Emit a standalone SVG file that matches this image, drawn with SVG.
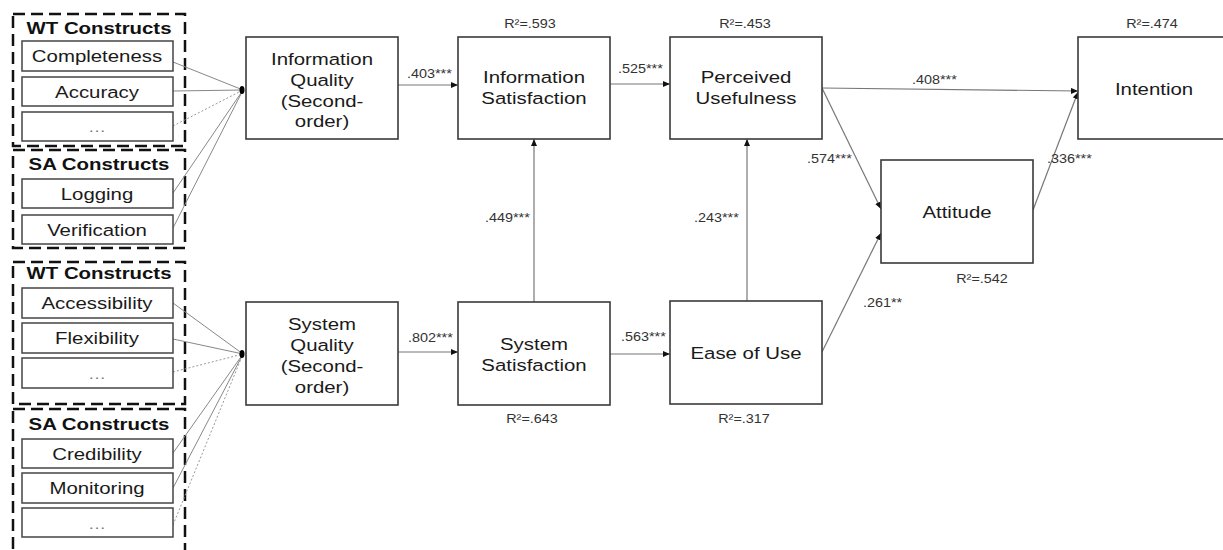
<svg xmlns="http://www.w3.org/2000/svg" width="1223" height="550" viewBox="0 0 1223 550">
<style>
text{font-family:"Liberation Sans",Arial,sans-serif;}
.grp{fill:none;stroke:#111;stroke-width:2.5;stroke-dasharray:12 6;}
.hdr{font-size:17px;font-weight:bold;fill:#111;text-anchor:middle;}
.ib{fill:#fff;stroke:#444;stroke-width:1.5;}
.it{font-size:17px;fill:#1a1a1a;text-anchor:middle;}
.dots{font-size:15px;fill:#777;text-anchor:middle;}
.mb{fill:#fff;stroke:#3a3a3a;stroke-width:1.6;}
.mt{font-size:17px;fill:#1a1a1a;text-anchor:middle;}
.lbl{font-size:12px;fill:#333;}
.r2{font-size:12px;fill:#333;text-anchor:middle;}
.ln{fill:none;stroke:#888;stroke-width:1;}
.dl{fill:none;stroke:#999;stroke-width:1;stroke-dasharray:2 2;}
.ar{fill:none;stroke:#777;stroke-width:1.2;marker-end:url(#ah);}
</style>
<defs>
<marker id="ah" markerWidth="8" markerHeight="6" refX="7" refY="3" orient="auto" markerUnits="userSpaceOnUse">
<path d="M0,0 L7,3 L0,6 Z" fill="#111"/>
</marker>
</defs>
<rect width="1223" height="550" fill="#fff"/>

<g id="groups">
<rect class="grp" x="13" y="14" width="172" height="132"/>
<rect class="grp" x="13" y="150" width="172" height="98"/>
<rect class="grp" x="13" y="262" width="172" height="142"/>
<rect class="grp" x="13" y="409" width="172" height="150"/>
<text class="hdr" transform="translate(99 34) scale(1.2 1)">WT Constructs</text>
<text class="hdr" transform="translate(99 170) scale(1.2 1)">SA Constructs</text>
<text class="hdr" transform="translate(99 279) scale(1.2 1)">WT Constructs</text>
<text class="hdr" transform="translate(99 430) scale(1.2 1)">SA Constructs</text>
</g>

<g id="connectors">
<line class="ln" x1="173" y1="62" x2="243" y2="90"/>
<line class="ln" x1="173" y1="91" x2="243" y2="90"/>
<line class="dl" x1="173" y1="126" x2="243" y2="90"/>
<line class="ln" x1="173" y1="193" x2="243" y2="90"/>
<line class="ln" x1="173" y1="228" x2="243" y2="90"/>
<ellipse cx="242" cy="90" rx="2.5" ry="4" fill="#000"/>
<line class="ln" x1="173" y1="303" x2="243" y2="354"/>
<line class="ln" x1="173" y1="339" x2="243" y2="354"/>
<line class="dl" x1="173" y1="372" x2="243" y2="354"/>
<line class="ln" x1="173" y1="453" x2="243" y2="354"/>
<line class="ln" x1="173" y1="488" x2="243" y2="354"/>
<line class="dl" x1="173" y1="525" x2="243" y2="354"/>
<ellipse cx="242" cy="354" rx="2.5" ry="4" fill="#000"/>

<line class="ar" x1="398" y1="85" x2="458" y2="85"/>
<line class="ar" x1="610" y1="84" x2="670" y2="84"/>
<line class="ar" x1="822" y1="88" x2="1078" y2="91"/>
<line class="ar" x1="822" y1="88" x2="881" y2="209"/>
<line class="ar" x1="1033" y1="210" x2="1078" y2="92"/>
<line class="ar" x1="398" y1="352" x2="458" y2="352"/>
<line class="ar" x1="610" y1="354" x2="670" y2="354"/>
<line class="ar" x1="534" y1="302" x2="534" y2="139"/>
<line class="ar" x1="747" y1="301" x2="747" y2="139"/>
<line class="ar" x1="822" y1="352" x2="881" y2="233"/>

<text class="lbl" transform="translate(407 78) scale(1.2 1)">.403***</text>
<text class="lbl" transform="translate(618 73) scale(1.2 1)">.525***</text>
<text class="lbl" transform="translate(912 84) scale(1.2 1)">.408***</text>
<text class="lbl" transform="translate(807 163) scale(1.2 1)">.574***</text>
<text class="lbl" transform="translate(1047 163) scale(1.2 1)">.336***</text>
<text class="lbl" transform="translate(408 342) scale(1.2 1)">.802***</text>
<text class="lbl" transform="translate(621 341) scale(1.2 1)">.563***</text>
<text class="lbl" transform="translate(485 222) scale(1.2 1)">.449***</text>
<text class="lbl" transform="translate(694 222) scale(1.2 1)">.243***</text>
<text class="lbl" transform="translate(863 307) scale(1.2 1)">.261**</text>
</g>

<g id="n-completeness"><rect class="ib" x="22" y="41" width="151" height="30"/><text class="it" transform="translate(97 62) scale(1.2 1)">Completeness</text></g>
<g id="n-accuracy"><rect class="ib" x="22" y="77" width="151" height="29"/><text class="it" transform="translate(97 98) scale(1.2 1)">Accuracy</text></g>
<g id="n-more1"><rect class="ib" x="22" y="112" width="151" height="29"/><text class="dots" transform="translate(97 132) scale(1.2 1)">…</text></g>
<g id="n-logging"><rect class="ib" x="22" y="179" width="151" height="29"/><text class="it" transform="translate(97 200) scale(1.2 1)">Logging</text></g>
<g id="n-verification"><rect class="ib" x="22" y="215" width="151" height="29"/><text class="it" transform="translate(97 236) scale(1.2 1)">Verification</text></g>

<g id="n-accessibility"><rect class="ib" x="22" y="288" width="151" height="30"/><text class="it" transform="translate(97 309) scale(1.2 1)">Accessibility</text></g>
<g id="n-flexibility"><rect class="ib" x="22" y="323" width="151" height="30"/><text class="it" transform="translate(97 344) scale(1.2 1)">Flexibility</text></g>
<g id="n-more2"><rect class="ib" x="22" y="358" width="151" height="30"/><text class="dots" transform="translate(97 379) scale(1.2 1)">…</text></g>
<g id="n-credibility"><rect class="ib" x="22" y="439" width="151" height="29"/><text class="it" transform="translate(97 460) scale(1.2 1)">Credibility</text></g>
<g id="n-monitoring"><rect class="ib" x="22" y="473" width="151" height="30"/><text class="it" transform="translate(97 494) scale(1.2 1)">Monitoring</text></g>
<g id="n-more3"><rect class="ib" x="22" y="508" width="151" height="29"/><text class="dots" transform="translate(97 529) scale(1.2 1)">…</text></g>

<g id="n-iq"><rect class="mb" x="246" y="37" width="152" height="102"/>
<text class="mt" transform="translate(322 65) scale(1.2 1)"><tspan x="0" y="0">Information</tspan><tspan x="0" y="21">Quality</tspan><tspan x="0" y="42">(Second-</tspan><tspan x="0" y="62">order)</tspan></text></g>
<g id="n-sq"><rect class="mb" x="246" y="302" width="152" height="103"/>
<text class="mt" transform="translate(322 330) scale(1.2 1)"><tspan x="0" y="0">System</tspan><tspan x="0" y="21">Quality</tspan><tspan x="0" y="42">(Second-</tspan><tspan x="0" y="63">order)</tspan></text></g>
<g id="n-is"><rect class="mb" x="458" y="37" width="152" height="102"/>
<text class="r2" transform="translate(530 28) scale(1.2 1)">R²=.593</text>
<text class="mt" transform="translate(534 83) scale(1.2 1)"><tspan x="0" y="0">Information</tspan><tspan x="0" y="21">Satisfaction</tspan></text></g>
<g id="n-pu"><rect class="mb" x="670" y="37" width="152" height="102"/>
<text class="r2" transform="translate(745 28) scale(1.2 1)">R²=.453</text>
<text class="mt" transform="translate(746 83) scale(1.2 1)"><tspan x="0" y="0">Perceived</tspan><tspan x="0" y="21">Usefulness</tspan></text></g>
<g id="n-intention"><rect class="mb" x="1078" y="37" width="152" height="102"/>
<text class="r2" transform="translate(1152 28) scale(1.2 1)">R²=.474</text>
<text class="mt" transform="translate(1154 95) scale(1.2 1)">Intention</text></g>
<g id="n-ss"><rect class="mb" x="458" y="302" width="152" height="103"/>
<text class="r2" transform="translate(532 423) scale(1.2 1)">R²=.643</text>
<text class="mt" transform="translate(534 350) scale(1.2 1)"><tspan x="0" y="0">System</tspan><tspan x="0" y="21">Satisfaction</tspan></text></g>
<g id="n-eou"><rect class="mb" x="670" y="301" width="152" height="103"/>
<text class="r2" transform="translate(744 423) scale(1.2 1)">R²=.317</text>
<text class="mt" transform="translate(746 359) scale(1.2 1)">Ease of Use</text></g>
<g id="n-attitude"><rect class="mb" x="881" y="160" width="152" height="103"/>
<text class="r2" transform="translate(982 283) scale(1.2 1)">R²=.542</text>
<text class="mt" transform="translate(957 218) scale(1.2 1)">Attitude</text></g>
</svg>
